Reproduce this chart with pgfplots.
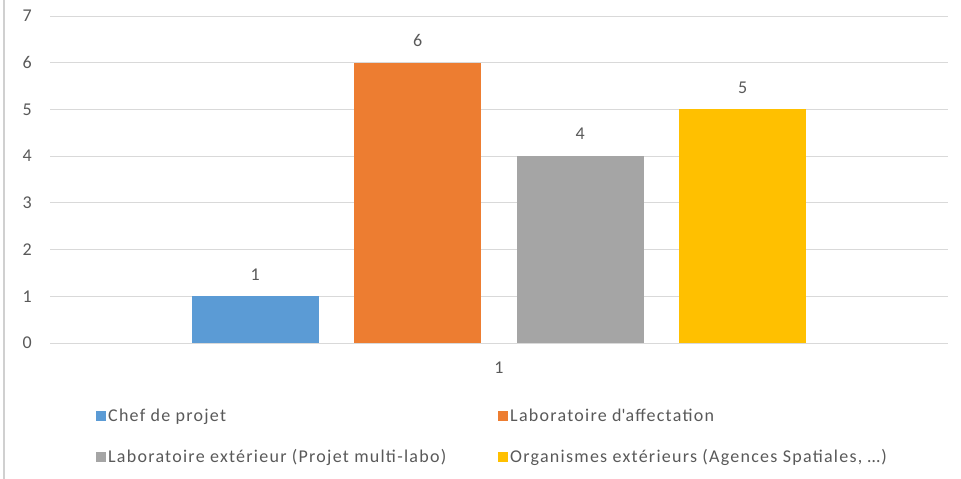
\documentclass[border=0pt]{standalone}
\usepackage{fontspec}
\setmainfont{Carlito}
\newfontfamily\legfont[LetterSpace=7]{Carlito}
\usepackage{pgfplots}
\pgfplotsset{compat=1.18}
\definecolor{cblue}{HTML}{5B9BD5}
\definecolor{corange}{HTML}{ED7D31}
\definecolor{cgray}{HTML}{A5A5A5}
\definecolor{cyellow}{HTML}{FFC000}
\definecolor{txt}{HTML}{595959}
\definecolor{gridc}{HTML}{D9D9D9}
\definecolor{frame}{HTML}{D0D0D0}
\begin{document}
\fontsize{18bp}{22bp}\selectfont
\begin{tikzpicture}
\useasboundingbox (0,0) rectangle (961bp,479bp);
\draw[frame, line width=1.2bp] (4bp,0) -- (4bp,479bp);
\begin{axis}[
  at={(50bp,136bp)}, anchor=south west,
  scale only axis, width=898bp, height=327bp,
  ymin=0, ymax=7, ytick={0,1,...,7},
  xmin=-0.5, xmax=0.5, xtick={0}, xticklabels={1},
  ybar=35.5bp, bar width=127bp,
  axis line style={draw=none}, major tick style={draw=none},
  ymajorgrids, grid style={gridc, line width=1bp},
  /pgf/number format/assume math mode=true,
  tick label style={font=\fontsize{18bp}{22bp}\selectfont, text=txt},
  yticklabel style={xshift=-12bp},
  xticklabel style={yshift=-8bp},
  nodes near coords,
  every node near coord/.append style={font=\fontsize{18bp}{22bp}\selectfont, text=txt, inner sep=0pt, yshift=16bp},
  legend columns=2,
  legend cell align=left,
  legend style={at={(0.0479,-0.188)}, anchor=north west, draw=none, fill=none,
    font=\legfont\fontsize{18bp}{22bp}\selectfont, text=txt,
    row sep=21bp,
    /tikz/every even column/.append style={column sep=50bp}},
  legend image code/.code={\fill[#1] (0bp,-5bp) rectangle (10bp,5bp);},
]
\addplot[fill=cblue, draw=none] coordinates {(0,1)};
\addplot[fill=corange, draw=none] coordinates {(0,6)};
\addplot[fill=cgray, draw=none] coordinates {(0,4)};
\addplot[fill=cyellow, draw=none] coordinates {(0,5)};
\legend{Chef de projet, Laboratoire d\textquotesingle affectation, Laboratoire extérieur (Projet multi-labo), {Organismes extérieurs (Agences Spatiales, \ldots)}}
\end{axis}
\end{tikzpicture}
\end{document}
